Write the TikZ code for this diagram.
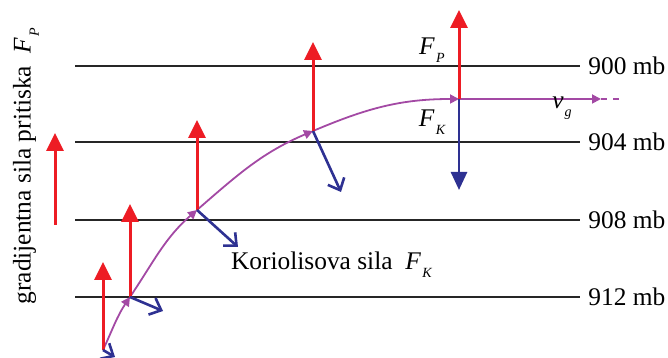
\documentclass[tikz,border=0pt]{standalone}
\usepackage{fontspec}
\setmainfont{Liberation Serif}
\newfontfamily\timesfont{Liberation Serif}
\usetikzlibrary{arrows.meta}
\definecolor{fpred}{RGB}{237,28,36}
\definecolor{fkblue}{RGB}{46,49,146}
\definecolor{vgpurple}{RGB}{163,73,164}
\newcommand{\Fsub}[1]{\textit{F}\kern.05em\raisebox{-.7ex}{\scriptsize\itshape #1}}
\begin{document}
\begin{tikzpicture}[x=0.5pt,y=0.5pt,font=\timesfont\fontsize{12.7}{15}\selectfont,
	iso/.style={black!85,line width=0.6pt},
	fp/.style={fpred,line width=1.5pt,-{Triangle[length=9pt,width=8.5pt]}},
	fk/.style={fkblue,line width=1.3pt,-{Straight Barb[length=5pt,width=9pt]}},
	fkd/.style={fkblue,line width=1.3pt,-{Triangle[length=9pt,width=8pt]}},
	vg/.style={vgpurple,line width=0.9pt,-{Triangle[length=4.5pt,width=4.5pt]}}]
	\useasboundingbox (0,0) rectangle (668,358);
	\foreach \p/\y in {900/292,904/216,908/138,912/61}{
		\node[right,inner sep=4pt] (mb\p) at (580,\y) {\p\ mb};
		\coordinate (w\p) at (75,\y);
		\draw[iso] (w\p) -- (mb\p.west);
	}
	\coordinate (p1) at (103,8);
	\coordinate (p2) at (130,61);
	\coordinate (p3) at (197,148);
	\coordinate (p4) at (313,227);
	\coordinate (p5) at (459,259);
	\coordinate (t1) at (103,96);
	\coordinate (t2) at (130,154);
	\coordinate (t3) at (197,238);
	\coordinate (t4) at (313,316);
	\coordinate (t5) at (459,348);
	\coordinate (k1) at (115,1);
	\coordinate (k2) at (163,47);
	\coordinate (k3) at (238,111);
	\coordinate (k4) at (341,166);
	\coordinate (k5) at (459,168);
	\coordinate (v) at (601,259);
	\coordinate (ve) at (620,259);
	\coordinate (la) at (55,133);
	\coordinate (lb) at (55,225);
	\draw[vg] (p1) to[out=65,in=236] (p2);
	\draw[vg] (p2) to[out=56,in=221] (p3);
	\draw[vg] (p3) to[out=41,in=203] (p4);
	\draw[vg] (p4) to[out=23,in=180] (p5);
	\draw[vg] (p5) -- (v);
	\draw[vgpurple,dashed,line width=0.6pt] (v) -- (ve);
	\foreach \i in {1,...,5}{
		\draw[fp] (p\i) -- (t\i);
	}
	\foreach \i in {1,...,4}{
		\draw[fk] (p\i) -- (k\i);
	}
	\draw[fkd] (p5) -- (k5);
	\draw[fp] (la) -- (lb);
	\node (fplabel) at (432,308) {\Fsub{P}};
	\node (fklabel) at (432,236) {\Fsub{K}};
	\node (vglabel) at (562,250) {\textit{v}\kern.03em\raisebox{-.7ex}{\scriptsize\itshape g}};
	\node[right] (kor) at (224,93) {Koriolisova sila\ \ \Fsub{K}};
	\node[rotate=90] (grad) at (26,192) {gradijentna sila pritiska\ \ \Fsub{P}};
\end{tikzpicture}
\end{document}
